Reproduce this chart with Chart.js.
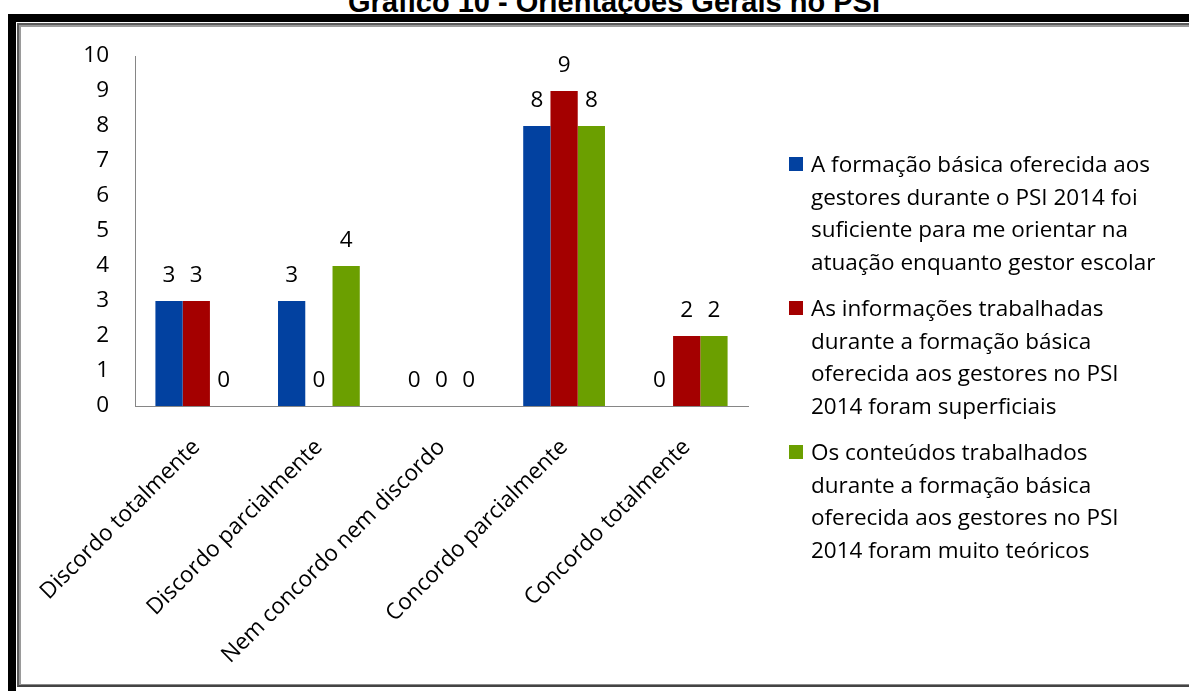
<!DOCTYPE html>
<html>
<head>
<meta charset="utf-8">
<script src="https://cdn.jsdelivr.net/npm/chart.js@4.4.0/dist/chart.umd.min.js"></script>
<style>
  body { margin: 0; background: #fff; width: 1189px; height: 691px; overflow: hidden; position: relative; font-family: "Open Sans", sans-serif; }
  .title { position: absolute; left: 314px; width: 600px; top: -14px; line-height: 29px; font: bold 29px "Liberation Sans", Arial, sans-serif; text-align: center; white-space: nowrap; }
  .frame-outer { position: absolute; left: 8px; top: 14px; width: 1300px; height: 674px; border-left: 8px solid #000; border-top: 8px solid #000; border-bottom: 8px solid #000; }
  .frame-inner { position: absolute; left: 17px; top: 23px; width: 1300px; height: 660px; border-left: 2px solid #5a5a5a; border-top: 2px solid #5a5a5a; border-bottom: 2px solid #444; box-shadow: inset 2px 2px 0 #9a9a9a, inset 0 -1px 0 #8a8a8a; }
  #chart-wrap { position: absolute; left: 0; top: 0; width: 1189px; height: 691px; }
  .legend { position: absolute; left: 789px; top: 148px; margin: 0; padding: 0; list-style: none; }
  .legend li { position: relative; padding-left: 22px; font-size: 22.5px; line-height: 32.5px; color: #000; margin-bottom: 14px; white-space: nowrap; }
  .legend li .box { position: absolute; left: 0; top: 9px; width: 14px; height: 14px; }
</style>
</head>
<body>
<div class="title">Gráfico 10 - Orientações Gerais no PSI</div>
<div class="frame-outer"></div>
<div class="frame-inner"></div>
<div id="chart-wrap"><canvas id="myChart"></canvas></div>
<ul class="legend"></ul>
<script>
const categories = ["Discordo totalmente", "Discordo parcialmente", "Nem concordo nem discordo", "Concordo parcialmente", "Concordo totalmente"];
const seriesNames = [
  ["A formação básica oferecida aos", "gestores durante o PSI 2014 foi", "suficiente para me orientar na", "atuação enquanto gestor escolar"],
  ["As informações trabalhadas", "durante a formação básica", "oferecida aos gestores no PSI", "2014 foram superficiais"],
  ["Os conteúdos trabalhados", "durante a formação básica", "oferecida aos gestores no PSI", "2014 foram muito teóricos"],
];
const suficiente = [3, 3, 0, 8, 0];
const superficiais = [3, 0, 0, 9, 2];
const teoricos = [0, 4, 0, 8, 2];
const yTicks = [0, 1, 2, 3, 4, 5, 6, 7, 8, 9, 10];
const barColors = ["#0241a0", "#a40000", "#6b9f00"];

const font = { family: "'Open Sans', sans-serif", size: 22.5 };

// value labels above each bar (zeros too)
const valueLabels = {
  id: "valueLabels",
  afterDatasetsDraw(chart) {
    const ctx = chart.ctx;
    ctx.save();
    ctx.font = "22.5px 'Open Sans', sans-serif";
    ctx.fillStyle = "#000";
    ctx.textAlign = "center";
    ctx.textBaseline = "middle";
    chart.data.datasets.forEach((ds, i) => {
      chart.getDatasetMeta(i).data.forEach((bar, j) => {
        ctx.fillText(String(ds.data[j]), bar.x, bar.y - 25);
      });
    });
    ctx.restore();
  },
};

const myChart = new Chart(document.getElementById("myChart"), {
  type: "bar",
  data: {
    labels: categories,
    datasets: [
      { label: seriesNames[0].join(" "), data: suficiente, backgroundColor: barColors[0] },
      { label: seriesNames[1].join(" "), data: superficiais, backgroundColor: barColors[1] },
      { label: seriesNames[2].join(" "), data: teoricos, backgroundColor: barColors[2] },
    ],
  },
  options: {
    responsive: true,
    maintainAspectRatio: false,
    animation: false,
    layout: { padding: { left: 20, right: 441, top: 56, bottom: 0 } },
    categoryPercentage: 0.667,
    barPercentage: 1,
    plugins: {
      legend: { display: false },
      tooltip: { enabled: false },
    },
    scales: {
      x: {
        grid: { display: false, drawTicks: false },
        border: { display: true, color: "#868686", width: 1 },
        ticks: { color: "#000", font: font, minRotation: 45, maxRotation: 45, autoSkip: false, padding: 28 },
        afterFit(scale) { scale.height = 285; },
      },
      y: {
        min: 0,
        max: 10,
        grid: { display: false, drawTicks: false },
        border: { display: true, color: "#868686", width: 1 },
        afterBuildTicks(scale) { scale.ticks = yTicks.map((v) => ({ value: v })); },
        ticks: { color: "#000", font: font, padding: 26 },
        afterFit(scale) { scale.width = 115; },
      },
    },
  },
  plugins: [valueLabels],
});

// html legend
const ul = document.querySelector(".legend");
const populateUl = () => {
  seriesNames.forEach((lines, i) => {
    let li = document.createElement("li");
    li.innerHTML = `<span class='box' style='background:${barColors[i]}'></span>${lines.join("<br>")}`;
    ul.appendChild(li);
  });
};
populateUl();
</script>
</body>
</html>
